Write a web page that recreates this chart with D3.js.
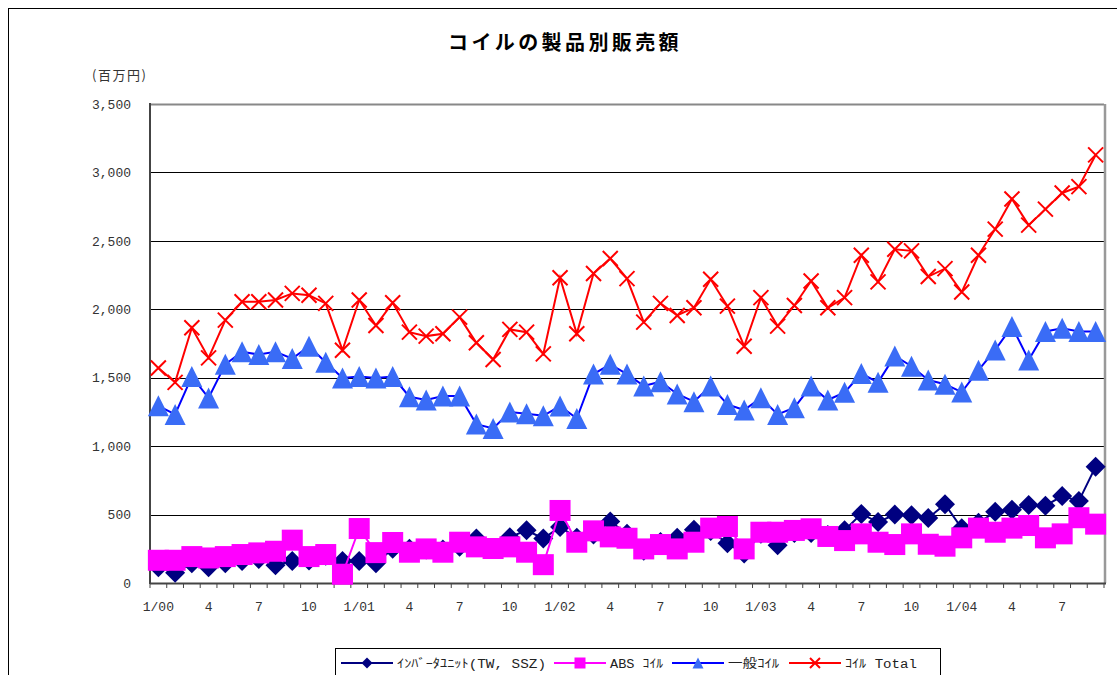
<!DOCTYPE html>
<html>
<head>
<meta charset="utf-8">
<script src="https://cdn.jsdelivr.net/npm/d3@7"></script>
<style>
  body { margin: 0; background: #fff; }
  svg { display: block; }
  .mono { font-family: "Liberation Mono", "Noto Sans CJK JP", monospace; }
</style>
</head>
<body>
<div id="chart"></div>
<script>
// months, Jan 2000 .. Sep 2004
var months = [
  "1/00","2/00","3/00","4/00","5/00","6/00","7/00","8/00","9/00","10/00","11/00","12/00",
  "1/01","2/01","3/01","4/01","5/01","6/01","7/01","8/01","9/01","10/01","11/01","12/01",
  "1/02","2/02","3/02","4/02","5/02","6/02","7/02","8/02","9/02","10/02","11/02","12/02",
  "1/03","2/03","3/03","4/03","5/03","6/03","7/03","8/03","9/03","10/03","11/03","12/03",
  "1/04","2/04","3/04","4/04","5/04","6/04","7/04","8/04","9/04"
];
var tickLabels = ["1/00","4","7","10","1/01","4","7","10","1/02","4","7","10","1/03","4","7","10","1/04","4","7"];

// 百万円
var inverter = [115,75,145,115,145,160,175,130,160,165,200,160,160,145,
  250,250,245,245,265,325,250,335,385,325,410,330,355,450,
  360,235,300,330,390,380,290,215,360,275,365,365,350,385,
  505,445,500,495,475,575,400,440,520,535,570,565,635,600,850];
var absCoil = [166,166,193,183,193,208,220,232,313,193,208,64,398,222,
  296,225,249,225,298,264,252,264,225,134,530,298,381,337,
  327,249,281,249,298,401,413,249,371,371,384,396,340,310,
  359,298,281,359,283,269,330,401,371,401,420,330,359,477,430];
var generalCoil = [1295,1232,1508,1352,1598,1689,1669,1689,1640,1730,1613,1498,1508,1498,
  1508,1361,1337,1366,1366,1161,1129,1249,1237,1222,1293,1202,1527,1598,
  1527,1440,1471,1381,1325,1440,1305,1264,1354,1232,1281,1440,1337,1393,
  1530,1466,1659,1584,1483,1452,1395,1555,1703,1875,1630,1838,1862,1838,1838];
var totalCoil = [1571,1466,1865,1645,1921,2055,2055,2068,2116,2102,2043,1701,2068,1882,
  2048,1833,1804,1821,1943,1755,1633,1853,1833,1674,2231,1821,2261,2371,
  2224,1906,2043,1955,2011,2219,2023,1730,2085,1877,2028,2207,2011,2085,
  2395,2200,2439,2427,2239,2297,2126,2395,2586,2806,2615,2732,2850,2896,3128];

var seriesNames = ["ｲﾝﾊﾞｰﾀﾕﾆｯﾄ(TW, SSZ)", "ABS ｺｲﾙ", "一般ｺｲﾙ", "ｺｲﾙ Total"];
var yTicks = [0,500,1000,1500,2000,2500,3000,3500];

var W = 1117, H = 675;
var margin = {left: 150, right: 13, top: 104, bottom: 92};

var svg = d3.select("#chart").append("svg").attr("width", W).attr("height", H);

// outer chart frame (runs off the picture right and bottom)
svg.append("rect").attr("x", 8.5).attr("y", 8.5).attr("width", 1130).attr("height", 700)
  .attr("fill", "none").attr("stroke", "#000").attr("stroke-width", 1);

svg.append("text").attr("x", 565).attr("y", 50).attr("text-anchor", "middle")
  .style("font-family", "'Noto Sans CJK JP', sans-serif").style("font-weight", "bold")
  .style("font-size", "20px").style("letter-spacing", "3.4px")
  .text("コイルの製品別販売額");

svg.append("text").attr("x", 92).attr("y", 80)
  .style("font-family", "'Noto Sans CJK JP', sans-serif").style("font-size", "13px")
  .attr("fill", "#333")
  .attr("textLength", 54).attr("lengthAdjust", "spacing")
  .text("(百万円)");

var x = d3.scaleBand().domain(d3.range(months.length)).range([margin.left, W - margin.right]).padding(0);
var y = d3.scaleLinear().domain([0, 3500]).range([H - margin.bottom, margin.top]);
var cx = function(i) { return x(i) + x.bandwidth() / 2; };

// gridlines
svg.append("g").selectAll("line").data(yTicks.slice(1)).enter().append("line")
  .attr("x1", margin.left).attr("x2", W - margin.right)
  .attr("y1", function(d) { return Math.round(y(d)) + 0.5; })
  .attr("y2", function(d) { return Math.round(y(d)) + 0.5; })
  .attr("stroke", function(d) { return d === 3500 ? "#888" : "#000"; })
  .attr("stroke-width", function(d) { return d === 3500 ? 2 : 1; });

// right border of plot
svg.append("line").attr("x1", W - margin.right + 1).attr("x2", W - margin.right + 1)
  .attr("y1", margin.top).attr("y2", H - margin.bottom)
  .attr("stroke", "#999").attr("stroke-width", 2.5);

// y axis
var yAxis = d3.axisLeft(y).tickValues(yTicks).tickFormat(d3.format(",")).tickSize(0).tickPadding(19);
var gy = svg.append("g").attr("transform", "translate(" + margin.left + ",0)").call(yAxis);
gy.select(".domain").remove();
gy.selectAll("text").attr("class", "mono").style("font-size", "13px").attr("fill", "#333");

svg.append("line").attr("x1", margin.left).attr("x2", margin.left)
  .attr("y1", margin.top - 1).attr("y2", H - margin.bottom + 1)
  .attr("stroke", "#444").attr("stroke-width", 2);

// x axis: ticks at category boundaries, labels every 3rd month
var bounds = d3.range(months.length + 1).map(function(i) {
  return i < months.length ? x(i) : x(months.length - 1) + x.bandwidth();
});
svg.append("g").selectAll("line").data(bounds).enter().append("line")
  .attr("x1", function(d) { return d; }).attr("x2", function(d) { return d; })
  .attr("y1", H - margin.bottom).attr("y2", H - margin.bottom + 5)
  .attr("stroke", "#444").attr("stroke-width", 1);
svg.append("line").attr("x1", margin.left).attr("x2", W - margin.right + 2)
  .attr("y1", H - margin.bottom + 0.5).attr("y2", H - margin.bottom + 0.5)
  .attr("stroke", "#444").attr("stroke-width", 2);

svg.append("g").selectAll("text").data(tickLabels).enter().append("text")
  .attr("class", "mono")
  .attr("x", function(d, i) { return cx(i * 3); })
  .attr("y", 611)
  .attr("text-anchor", "middle")
  .style("font-size", "13px").attr("fill", "#333")
  .text(function(d) { return d; });

// markers
var markers = {
  diamond: function(g, r) { g.append("path").attr("d", "M0," + (-r) + "L" + r + ",0L0," + r + "L" + (-r) + ",0Z"); },
  square: function(g, r) { g.append("rect").attr("x", -r).attr("y", -r).attr("width", 2 * r).attr("height", 2 * r); },
  triangle: function(g, r) { g.append("path").attr("d", "M0," + (-r) + "L" + r + "," + r + "L" + (-r) + "," + r + "Z"); },
  cross: function(g, r) { g.append("path").attr("d", "M" + (-r) + "," + (-r) + "L" + r + "," + r + "M" + (-r) + "," + r + "L" + r + "," + (-r)); }
};

var series = [
  {name: seriesNames[0], values: inverter, line: "#000080", fill: "#000080", marker: "diamond", r: 10},
  {name: seriesNames[1], values: absCoil, line: "#ff00ff", fill: "#ff00ff", marker: "square", r: 10.5},
  {name: seriesNames[2], values: generalCoil, line: "#0000ff", fill: "#3a6cf6", marker: "triangle", r: 10.5},
  {name: seriesNames[3], values: totalCoil, line: "#ff0000", fill: "none", marker: "cross", r: 7.5}
];

var line = d3.line().x(function(d, i) { return cx(i); }).y(function(d) { return y(d); });

series.forEach(function(s) {
  var g = svg.append("g");
  g.append("path").attr("d", line(s.values)).attr("fill", "none")
    .attr("stroke", s.line).attr("stroke-width", 2);
  s.values.forEach(function(v, i) {
    var m = g.append("g").attr("transform", "translate(" + cx(i) + "," + y(v) + ")")
      .attr("fill", s.fill).attr("stroke", s.marker === "cross" ? s.line : "none")
      .attr("stroke-width", 2);
    markers[s.marker](m, s.r);
  });
});

// legend
var lg = svg.append("g");
lg.append("rect").attr("x", 335.5).attr("y", 648.5).attr("width", 605).attr("height", 60)
  .attr("fill", "#fff").attr("stroke", "#000").attr("stroke-width", 1);
var legendX = [341, 554, 672, 789];
var legendW = [149, 53, 51, 72];
series.forEach(function(s, i) {
  var gx = lg.append("g").attr("transform", "translate(" + legendX[i] + ",663)");
  gx.append("line").attr("x1", 0).attr("x2", 52).attr("stroke", s.line).attr("stroke-width", 2);
  var m = gx.append("g").attr("transform", "translate(26,0)")
    .attr("fill", s.fill).attr("stroke", s.marker === "cross" ? s.line : "none").attr("stroke-width", 2);
  markers[s.marker](m, s.marker === "cross" ? 5 : 5.5);
  gx.append("text").attr("class", "mono").attr("x", 56).attr("y", 5)
    .style("font-size", "12px").attr("fill", "#222")
    .attr("textLength", legendW[i]).attr("lengthAdjust", "spacingAndGlyphs")
    .text(s.name);
});
</script>
</body>
</html>
